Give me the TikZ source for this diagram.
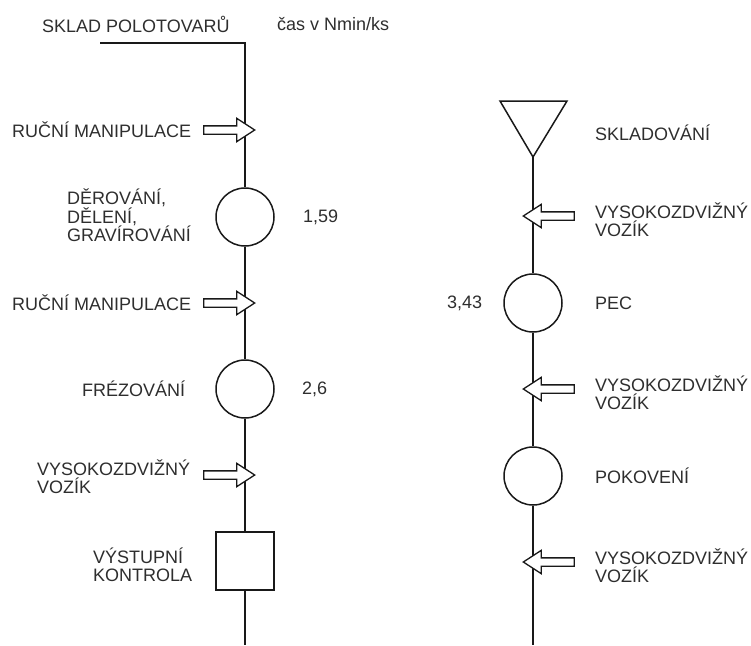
\documentclass[tikz,border=0pt]{standalone}
\usepackage{fontspec}
\setmainfont{Liberation Sans}
\usetikzlibrary{shapes.arrows}
\begin{document}
\begin{tikzpicture}[x=1pt,y=-1pt,
  flow/.style={line width=1.6pt,black!90},
  op/.style={circle,draw=black!90,line width=1.5pt,minimum size=58pt,inner sep=0pt},
  chk/.style={rectangle,draw=black!90,line width=1.5pt,minimum size=58pt,inner sep=0pt},
  blk/.style={single arrow,draw=black!90,line width=1.3pt,fill=white,inner xsep=0pt,inner ysep=3.5pt,
    minimum height=51pt,single arrow head extend=7.5pt,single arrow tip angle=66,text width=0pt},
  lbl/.style={inner sep=0pt,anchor=west,align=left,text=black!82,font=\fontsize{18}{18}\selectfont}
]
\useasboundingbox (0,0) rectangle (751,645);
% left column
\coordinate (start) at (100,43);
\coordinate (corner) at (245,43);
\node[op] (c1) at (245,217) {};
\node[op] (c2) at (245,389) {};
\node[chk] (sq) at (245,561) {};
\coordinate (lend) at (245,645);
\draw[flow] (start) -- (corner) -- (c1.north);
\draw[flow] (c1.south) -- (c2.north);
\draw[flow] (c2.south) -- (sq.north);
\draw[flow] (sq.south) -- (lend);
\node[blk] (a1) at (226,130) {};
\node[blk] (a2) at (226,303) {};
\node[blk] (a3) at (226,475) {};
% right column
\coordinate (t1) at (500,101);
\coordinate (t2) at (567,101);
\coordinate (tri) at (533,157);
\draw[line width=1.5pt,black!90,line join=miter] (t1) -- (t2) -- (tri) -- cycle;
\node[op] (c3) at (533,303) {};
\node[op] (c4) at (533,476) {};
\coordinate (rend) at (533,645);
\draw[flow] (tri) -- (c3.north);
\draw[flow] (c3.south) -- (c4.north);
\draw[flow] (c4.south) -- (rend);
\node[blk,shape border rotate=180] (b1) at (552,216) {};
\node[blk,shape border rotate=180] (b2) at (552,389) {};
\node[blk,shape border rotate=180] (b3) at (552,562) {};
% texts
\node[lbl] (tsklad) at (42,24) {SKLAD POLOTOVARŮ};
\node[lbl] (tcas) at (277,24) {čas v Nmin/ks};
\node[lbl] (tm1) at (12,130) {RUČNÍ MANIPULACE};
\node[lbl] (tder) at (67,215) {DĚROVÁNÍ,\\DĚLENÍ,\\GRAVÍROVÁNÍ};
\node[lbl] (t159) at (303,217) {1,59};
\node[lbl] (tm2) at (12,303) {RUČNÍ MANIPULACE};
\node[lbl] (tfrez) at (82,389) {FRÉZOVÁNÍ};
\node[lbl] (t26) at (302,389) {2,6};
\node[lbl] (tv1) at (37,477) {VYSOKOZDVIŽNÝ\\VOZÍK};
\node[lbl] (tvys) at (93,565) {VÝSTUPNÍ\\KONTROLA};
\node[lbl] (tskl) at (595,133) {SKLADOVÁNÍ};
\node[lbl] (tv2) at (595,220) {VYSOKOZDVIŽNÝ\\VOZÍK};
\node[lbl] (t343) at (447,303) {3,43};
\node[lbl] (tpec) at (595,303) {PEC};
\node[lbl] (tv3) at (595,393) {VYSOKOZDVIŽNÝ\\VOZÍK};
\node[lbl] (tpok) at (595,476) {POKOVENÍ};
\node[lbl] (tv4) at (595,566) {VYSOKOZDVIŽNÝ\\VOZÍK};
\end{tikzpicture}
\end{document}
